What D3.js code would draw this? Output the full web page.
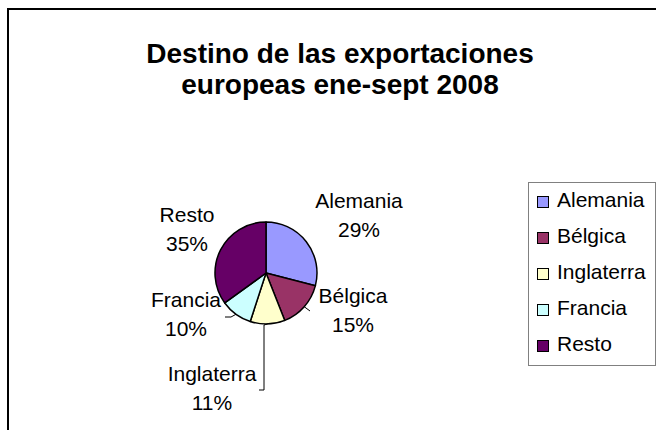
<!DOCTYPE html>
<html>
<head>
<meta charset="utf-8">
<script src="https://cdn.jsdelivr.net/npm/d3@7"></script>
<style>
	html, body { margin: 0; padding: 0; background: #fff; overflow: hidden; }
	svg { display: block; font-family: "Liberation Sans", Arial, sans-serif; }
</style>
</head>
<body>
<div id="chart"></div>
<script>
( function () {

	// Chart data.
	var titleLines = [ 'Destino de las exportaciones', 'europeas ene-sept 2008' ];
	var categories = [ 'Alemania', 'Bélgica', 'Inglaterra', 'Francia', 'Resto' ];
	var shares = [ 29, 15, 11, 10, 35 ];
	var colors = [ '#9999FF', '#993366', '#FFFFCC', '#CCFFFF', '#660066' ];

	// Where each data label sits (x = text centre, y = first baseline),
	// plus the elbow points of its leader line, if any.
	var labelLayout = [
		{ x: 359, y: 208, leader: null },
		{ x: 353, y: 303, leader: [ [ 310, 311 ] ] },
		{ x: 212, y: 381, leader: [ [ 264, 325 ], [ 264, 390 ], [ 259, 390 ] ] },
		{ x: 186, y: 307, leader: [ [ 231, 317 ], [ 225, 317 ] ] },
		{ x: 187, y: 222, leader: null }
	];

	var width = 656, height = 430;
	var cx = 266, cy = 273, radius = 51;

	var svg = d3.select( '#chart' ).append( 'svg' )
		.attr( 'width', width )
		.attr( 'height', height );

	// Chart area frame (runs off the right and bottom of the picture).
	svg.append( 'rect' )
		.attr( 'x', 8 )
		.attr( 'y', 9 )
		.attr( 'width', width + 20 )
		.attr( 'height', height + 20 )
		.attr( 'fill', '#fff' )
		.attr( 'stroke', '#000' )
		.attr( 'stroke-width', 2 );

	// Title.
	svg.append( 'text' )
		.attr( 'text-anchor', 'middle' )
		.attr( 'font-size', '28px' )
		.attr( 'font-weight', 'bold' )
		.attr( 'fill', '#000' )
		.selectAll( 'tspan' )
		.data( titleLines )
		.enter()
		.append( 'tspan' )
		.attr( 'x', 340 )
		.attr( 'y', function ( d, i ) { return 63 + i * 31; } )
		.text( function ( d ) { return d; } );

	var slices = d3.pie().sort( null ).value( function ( d ) { return d; } )( shares );
	var arc = d3.arc().innerRadius( 0 ).outerRadius( radius );
	var edge = d3.arc().innerRadius( radius ).outerRadius( radius );

	var pie = svg.append( 'g' )
		.attr( 'transform', 'translate( ' + cx + ', ' + cy + ' )' );

	pie.selectAll( 'path' )
		.data( slices )
		.enter()
		.append( 'path' )
		.attr( 'd', arc )
		.attr( 'fill', function ( d, i ) { return colors[i]; } )
		.attr( 'stroke', '#000' )
		.attr( 'stroke-width', 1.5 )
		.attr( 'stroke-linejoin', 'round' );

	// Leader lines from the slice edge to the label.
	slices.forEach( function ( d, i ) {
		var lay = labelLayout[i];
		if ( !lay.leader ) { return; }
		var start = edge.centroid( d );
		var pts = [ [ cx + start[0], cy + start[1] ] ].concat( lay.leader );
		svg.append( 'path' )
			.attr( 'd', d3.line()( pts ) )
			.attr( 'fill', 'none' )
			.attr( 'stroke', '#000' )
			.attr( 'stroke-width', 1 );
	} );

	// Data labels: category name and share.
	var labels = svg.selectAll( 'text.label' )
		.data( slices )
		.enter()
		.append( 'text' )
		.attr( 'class', 'label' )
		.attr( 'text-anchor', 'middle' )
		.attr( 'font-size', '21px' )
		.attr( 'fill', '#000' );

	labels.append( 'tspan' )
		.attr( 'x', function ( d, i ) { return labelLayout[i].x; } )
		.attr( 'y', function ( d, i ) { return labelLayout[i].y; } )
		.text( function ( d, i ) { return categories[i]; } );

	labels.append( 'tspan' )
		.attr( 'x', function ( d, i ) { return labelLayout[i].x; } )
		.attr( 'y', function ( d, i ) { return labelLayout[i].y + 29; } )
		.text( function ( d ) { return d.value + '%'; } );

	// Legend.
	var legend = svg.append( 'g' )
		.attr( 'transform', 'translate( 528, 182 )' );

	legend.append( 'rect' )
		.attr( 'x', 0.5 )
		.attr( 'y', 0.5 )
		.attr( 'width', 127 )
		.attr( 'height', 183 )
		.attr( 'fill', '#fff' )
		.attr( 'stroke', '#808080' )
		.attr( 'stroke-width', 1 );

	var item = legend.selectAll( 'g.item' )
		.data( categories )
		.enter()
		.append( 'g' )
		.attr( 'class', 'item' )
		.attr( 'transform', function ( d, i ) { return 'translate( 0, ' + ( 25 + i * 36 ) + ' )'; } );

	item.append( 'rect' )
		.attr( 'x', 9.5 )
		.attr( 'y', -10.5 )
		.attr( 'width', 11 )
		.attr( 'height', 11 )
		.attr( 'fill', function ( d, i ) { return colors[i]; } )
		.attr( 'stroke', '#000' )
		.attr( 'stroke-width', 1 );

	item.append( 'text' )
		.attr( 'x', 29 )
		.attr( 'y', 0 )
		.attr( 'font-size', '21px' )
		.attr( 'fill', '#000' )
		.text( function ( d ) { return d; } );

} )();
</script>
</body>
</html>
